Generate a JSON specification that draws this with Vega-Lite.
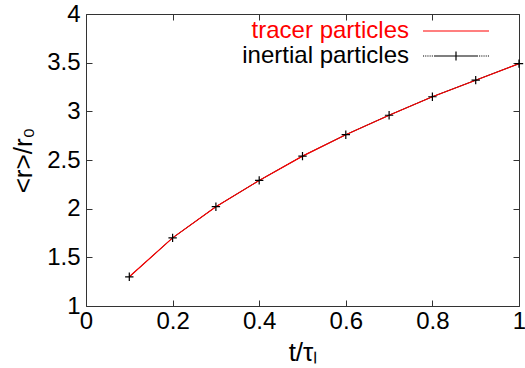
{
  "$schema": "https://vega.github.io/schema/vega-lite/v6.json",
  "width": 433,
  "height": 292,
  "autosize": {"type": "none"},
  "padding": {"left": 86, "top": 14, "right": 6, "bottom": 62},
  "background": "white",
  "config": {
    "view": {"stroke": "#333333", "strokeWidth": 1},
    "font": "Liberation Sans",
    "axis": {
      "grid": false,
      "domain": false,
      "labelFlush": false,
      "tickColor": "#333333",
      "tickSize": -6,
      "tickWidth": 1,
      "labelFont": "Liberation Sans",
      "labelFontSize": 24,
      "labelColor": "#000000",
      "titleFont": "Liberation Sans",
      "titleFontSize": 26,
      "titleFontWeight": "normal",
      "titleColor": "#000000"
    }
  },
  "data": {
    "values": [
      {"t": 0.1, "r": 1.30, "series": "inertial particles"},
      {"t": 0.2, "r": 1.70, "series": "inertial particles"},
      {"t": 0.3, "r": 2.02, "series": "inertial particles"},
      {"t": 0.4, "r": 2.29, "series": "inertial particles"},
      {"t": 0.5, "r": 2.54, "series": "inertial particles"},
      {"t": 0.6, "r": 2.76, "series": "inertial particles"},
      {"t": 0.7, "r": 2.96, "series": "inertial particles"},
      {"t": 0.8, "r": 3.15, "series": "inertial particles"},
      {"t": 0.9, "r": 3.32, "series": "inertial particles"},
      {"t": 1.0, "r": 3.49, "series": "inertial particles"},
      {"t": 0.1, "r": 1.30, "series": "tracer particles"},
      {"t": 0.2, "r": 1.70, "series": "tracer particles"},
      {"t": 0.3, "r": 2.02, "series": "tracer particles"},
      {"t": 0.4, "r": 2.29, "series": "tracer particles"},
      {"t": 0.5, "r": 2.54, "series": "tracer particles"},
      {"t": 0.6, "r": 2.76, "series": "tracer particles"},
      {"t": 0.7, "r": 2.96, "series": "tracer particles"},
      {"t": 0.8, "r": 3.15, "series": "tracer particles"},
      {"t": 0.9, "r": 3.32, "series": "tracer particles"},
      {"t": 1.0, "r": 3.49, "series": "tracer particles"}
    ]
  },
  "resolve": {"axis": {"x": "independent", "y": "independent"}},
  "layer": [
    {
      "transform": [{"filter": "datum.series === 'inertial particles'"}],
      "mark": {"type": "line", "strokeWidth": 1},
      "encoding": {
        "x": {
          "field": "t", "type": "quantitative",
          "scale": {"domain": [0, 1], "nice": false, "zero": false},
          "axis": {"orient": "bottom", "values": [0, 0.2, 0.4, 0.6, 0.8, 1], "format": "~g", "labelPadding": 9, "title": "t/τₗ", "titlePadding": 6}
        },
        "y": {
          "field": "r", "type": "quantitative",
          "scale": {"domain": [1, 4], "nice": false, "zero": false},
          "axis": {"orient": "left", "values": [1, 1.5, 2, 2.5, 3, 3.5, 4], "format": "~g", "labelPadding": 12, "title": "<r>/r₀", "titlePadding": 10}
        },
        "color": {
          "field": "series", "type": "nominal",
          "scale": {"domain": ["tracer particles", "inertial particles"], "range": ["#ff0000", "#000000"]},
          "legend": {
            "title": null,
            "orient": "none",
            "legendX": 358,
            "legendY": 5,
            "padding": 0,
            "labelFont": "Liberation Sans",
            "labelFontSize": 24,
            "labelLimit": 400,
            "labelAlign": "right",
            "labelOffset": -59,
            "symbolSize": 484,
            "symbolStrokeWidth": 1.2,
            "symbolFillColor": "transparent",
            "rowPadding": 1,
            "encode": {
              "labels": {"update": {"fill": {"signal": "datum.value === 'tracer particles' ? '#ff0000' : '#000000'"}}},
              "symbols": {"update": {"shape": {"signal": "datum.value === 'tracer particles' ? 'M-3,0H3' : 'M-3,0h0.1M-2.8,0h0.1M-2.6,0h0.1M-2.4,0h0.1M-2.2,0h0.1M-2,0H2M2.1,0h0.1M2.3,0h0.1M2.5,0h0.1M2.7,0h0.1M2.9,0h0.1M0,-0.4V0.4'"}, "fill": {"value": "transparent"}}}
            }
          }
        }
      }
    },
    {
      "transform": [{"filter": "datum.series === 'tracer particles'"}],
      "mark": {"type": "line", "strokeWidth": 1.2},
      "encoding": {
        "x": {"field": "t", "type": "quantitative", "axis": {"orient": "top", "values": [0, 0.2, 0.4, 0.6, 0.8, 1], "labels": false, "title": null}},
        "y": {"field": "r", "type": "quantitative", "axis": {"orient": "right", "values": [1, 1.5, 2, 2.5, 3, 3.5, 4], "labels": false, "title": null}},
        "color": {"field": "series", "type": "nominal"}
      }
    },
    {
      "transform": [{"filter": "datum.series === 'inertial particles'"}],
      "mark": {"type": "point", "shape": "M-1,0H1M0,-1V1", "size": 70, "stroke": "#000000", "strokeWidth": 1.2, "filled": false, "opacity": 1},
      "encoding": {
        "x": {"field": "t", "type": "quantitative", "axis": null},
        "y": {"field": "r", "type": "quantitative", "axis": null}
      }
    }
  ]
}
